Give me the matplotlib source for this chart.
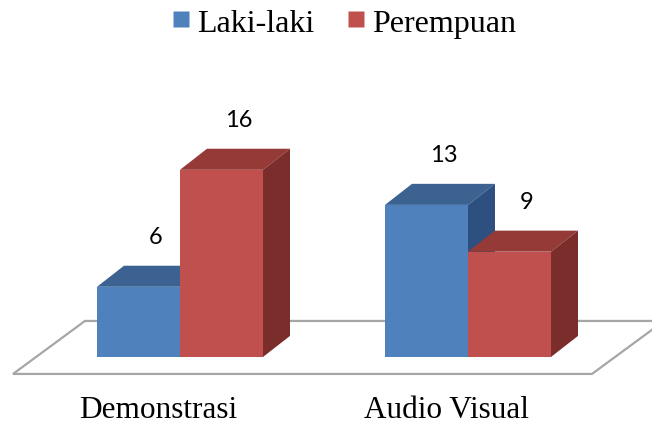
import matplotlib
matplotlib.use("Agg")
import matplotlib.pyplot as plt
from matplotlib.patches import Polygon
from matplotlib.lines import Line2D

categories = ["Demonstrasi", "Audio Visual"]
series = ["Laki-laki", "Perempuan"]
laki = [6, 13]
perempuan = [16, 9]

front = ["#4F81BD", "#C0504D"]
top = ["#3B6291", "#953A37"]
side = ["#2D5080", "#7A2D2B"]

fig = plt.figure(figsize=(6.52, 4.27), dpi=100)
ax = fig.add_axes([0, 0, 1, 1])
# x in pixel-like units, y in data values (0 at the bar base)
ax.set_xlim(0, 652)
ax.set_ylim(-5.9, 30.6)
ax.axis("off")

bw = 83          # bar width
gap = 288        # distance between group centres
x0 = 180         # first group centre
ddx, ddy = 27, 1.8   # depth offset of each bar

# floor
floor = Polygon([(13, -1.45), (592, -1.45), (664, 3.08), (85, 3.08)],
                closed=True, facecolor="white", edgecolor="#A6A6A6", lw=1.6, zorder=1)
ax.add_patch(floor)

def bar3d(x, h, k):
    ax.add_patch(Polygon([(x, 0), (x + bw, 0), (x + bw, h), (x, h)],
                         facecolor=front[k], edgecolor="none", zorder=3))
    ax.add_patch(Polygon([(x, h), (x + bw, h), (x + bw + ddx, h + ddy), (x + ddx, h + ddy)],
                         facecolor=top[k], edgecolor="none", zorder=3))
    ax.add_patch(Polygon([(x + bw, 0), (x + bw + ddx, ddy), (x + bw + ddx, h + ddy), (x + bw, h)],
                         facecolor=side[k], edgecolor="none", zorder=3))
    ax.text(x + bw / 2 + 17, h + ddy + 2.5, str(h), ha="center", va="center",
            fontsize=17, family="Lato", color="black", zorder=4)

for i, cat in enumerate(categories):
    c = x0 + gap * i
    bar3d(c - bw, laki[i], 0)
    bar3d(c, perempuan[i], 1)
    ax.text(c - 22, -4.45, cat, ha="center", va="center",
            fontsize=22.5, family="Liberation Serif")

handles = [Line2D([], [], ls="none", marker="s", markersize=12,
                  markerfacecolor=front[k], markeredgecolor="none") for k in range(2)]
fig.legend(handles, series, loc="center", bbox_to_anchor=(0.528, 0.944), ncol=2,
           frameon=False, handlelength=0.5, handletextpad=0.25, columnspacing=1.05,
           prop={"family": "Liberation Serif", "size": 23})

fig.savefig("out.png", dpi=100)
